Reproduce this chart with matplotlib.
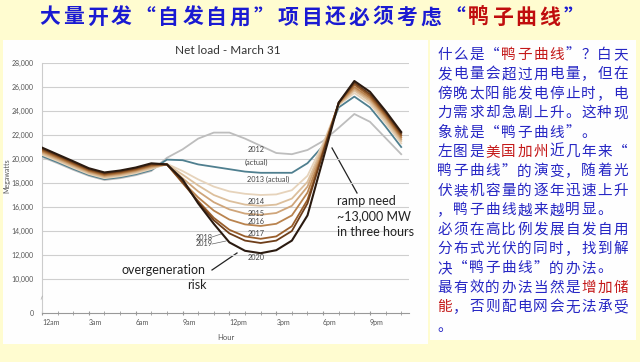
import matplotlib
matplotlib.use('Agg')
import matplotlib.pyplot as plt
from matplotlib.patches import Rectangle

plt.rcParams['font.family'] = ['Noto Sans CJK SC', 'DejaVu Sans']

# hourly net load, MW
hours = list(range(24))
y2012 = [20170, 19650, 19100, 18600, 18250, 18400, 18650, 19000, 20100, 20800, 21700, 22200,
         22200, 21700, 21100, 20500, 20400, 20750, 21500, 22600, 23750, 23100, 21750, 20400]
y2013 = [20250, 19730, 19180, 18670, 18320, 18480, 18730, 19080, 19950, 19900, 19550, 19350,
         19150, 18950, 18850, 18850, 18850, 19650, 21100, 24300, 25200, 24300, 22700, 21000]
y2014 = [20350, 19830, 19270, 18750, 18400, 18560, 18810, 19160, 19600, 19000, 18300, 17700,
         17300, 17100, 17000, 17050, 17400, 18600, 21300, 24500, 25500, 24600, 23000, 21300]
y2015 = [20450, 19920, 19360, 18830, 18480, 18640, 18890, 19240, 19550, 18700, 17800, 17000,
         16500, 16200, 16100, 16200, 16700, 18100, 21100, 24550, 25700, 24800, 23200, 21500]
y2016 = [20550, 20010, 19450, 18910, 18560, 18720, 18970, 19320, 19550, 18400, 17300, 16400,
         15800, 15450, 15350, 15500, 16100, 17700, 20900, 24600, 25850, 24950, 23400, 21650]
y2017 = [20650, 20100, 19540, 18990, 18640, 18800, 19050, 19400, 19550, 18100, 16800, 15700,
         14950, 14550, 14420, 14600, 15300, 17200, 20700, 24650, 26000, 25100, 23550, 21800]
y2018 = [20750, 20200, 19630, 19070, 18720, 18880, 19130, 19480, 19550, 18000, 16500, 15100,
         14100, 13550, 13350, 13550, 14400, 16600, 20600, 24700, 26200, 25250, 23700, 21950]
y2019 = [20850, 20290, 19720, 19150, 18800, 18960, 19210, 19560, 19550, 18100, 16400, 14900,
         13800, 13200, 13000, 13200, 14000, 16300, 20500, 24700, 26350, 25400, 23850, 22100]
y2020 = [20950, 20380, 19810, 19230, 18880, 19040, 19290, 19640, 19550, 18300, 16300, 14600,
         13050, 12350, 12150, 12400, 13200, 15300, 20000, 24700, 26500, 25600, 24000, 22250]

years = ['2012', '2013', '2014', '2015', '2016', '2017', '2018', '2019', '2020']
series = [y2012, y2013, y2014, y2015, y2016, y2017, y2018, y2019, y2020]
colors = ['#bdbdbd', '#4f7f8f', '#e6d3bb', '#dcbf9c', '#cfa57a', '#b9834e', '#9a5f2c', '#6e3e1a', '#2a1a10']

yticks = [10000, 12000, 14000, 16000, 18000, 20000, 22000, 24000, 26000, 28000]
xtick_pos = [0, 3, 6, 9, 12, 15, 18, 21]
xtick_lab = ['12am', '3am', '6am', '9am', '12pm', '3pm', '6pm', '9pm']

title_segs = [('大量开发“自发自用”项目还必须考虑“', '#1a1ad2'), ('鸭子曲线', '#c00d0d'), ('”', '#1a1ad2')]
BLUE = '#2626c4'
RED = '#c41818'
body = [
    [('什么是“', BLUE), ('鸭子曲线', RED), ('”？白天', BLUE)],
    [('发电量会超过用电量，但在', BLUE)],
    [('傍晚太阳能发电停止时，电', BLUE)],
    [('力需求却急剧上升。这种现', BLUE)],
    [('象就是“鸭子曲线”。', BLUE)],
    [('左图是', BLUE), ('美国加州', RED), ('近几年来“', BLUE)],
    [('鸭子曲线”的演变，随着光', BLUE)],
    [('伏装机容量的逐年迅速上升', BLUE)],
    [('，鸭子曲线越来越明显。', BLUE)],
    [('必须在高比例发展自发自用', BLUE)],
    [('分布式光伏的同时，找到解', BLUE)],
    [('决“鸭子曲线”的办法。', BLUE)],
    [('最有效的办法当然是', BLUE), ('增加储', RED)],
    [('能', RED), ('，否则配电网会无法承受', BLUE)],
    [('。', BLUE)],
]

W, H = 640, 362


def fx(x):
    return x / W


def fy(y):
    return 1 - y / H


fig = plt.figure(figsize=(6.4, 3.62), dpi=100, facecolor='#fffcd0')

# white panels
fig.patches.append(Rectangle((fx(3), fy(344)), 425 / W, 304 / H, transform=fig.transFigure,
                             facecolor='#fefefe', edgecolor='none', zorder=-5))
fig.patches.append(Rectangle((fx(430), fy(340)), 206 / W, 300 / H, transform=fig.transFigure,
                             facecolor='#fefefe', edgecolor='none', zorder=-5))

# title, one char per cell
i = 0
for seg, c in title_segs:
    for ch in seg:
        fig.text(fx(38 + 23.8 * i + 11.9), fy(17), ch, ha='center', va='center',
                 fontsize=15, fontweight='bold', color=c)
        i += 1

# right side text
for row, segs in enumerate(body):
    i = 0
    ypos = 55 + 19.4 * row
    for seg, c in segs:
        for ch in seg:
            fig.text(fx(437 + 16 * i + 7.5), fy(ypos), ch, ha='center', va='center',
                     fontsize=10.5, color=c)
            i += 1

# chart
ax = fig.add_axes([fx(42), fy(313), (409 - 42) / W, (313 - 63) / H])
ax.set_zorder(2)
ax.set_facecolor('none')
ybot = 7167
ax.set_ylim(ybot, 28000)
ax.set_xlim(0, 23.5)

for v in yticks:
    ax.axhline(v, color='#cfcfcf', lw=0.8, zorder=1)

for yr, s, c in zip(years, series, colors):
    lw = 1.5 if yr == '2020' else 1.3
    ax.plot(hours, s, color=c, lw=lw, zorder=3)

for sp in ['top', 'right']:
    ax.spines[sp].set_visible(False)
ax.spines['left'].set_color('#cccccc')
ax.spines['left'].set_linewidth(0.8)
ax.spines['bottom'].set_color('#999999')
ax.spines['bottom'].set_linewidth(0.8)

ax.set_yticks([ybot] + yticks)
ax.set_yticklabels(['0'] + ['{:,}'.format(v) for v in yticks], family='Lato',
                   fontsize=5, color='#555555')
ax.tick_params(axis='y', length=0, pad=6)

ax.set_xticks(xtick_pos)
ax.set_xticklabels(xtick_lab, family='Lato', fontsize=5, color='#555555', ha='left')
ax.set_xticks(hours, minor=True)
ax.tick_params(axis='x', which='both', direction='inout', length=2.5, color='#999999', pad=3)

ax.set_xlabel('Hour', family='Lato', fontsize=5.5, color='#555555', labelpad=6)
ax.set_ylabel('Megawatts', family='Lato', fontsize=5, color='#555555', labelpad=6)
ax.yaxis.set_label_coords(-0.085, 0.55)

fig.text(fx(228), fy(51), 'Net load - March 31', family='Lato', fontsize=8.5,
         color='#333333', ha='center', va='center')
fig.text(fx(42), fy(297), '~', family='DejaVu Sans', fontsize=5, color='#999999',
         ha='center', va='center', rotation=70)

# year labels
lab = dict(family='Lato', fontsize=5.3, color='#444444', ha='center', va='center')
fig.text(fx(256), fy(150), '2012', **lab)
fig.text(fx(256), fy(162), '(actual)', **lab)
fig.text(fx(268), fy(179), '2013 (actual)', **lab)
fig.text(fx(256), fy(202), '2014', **lab)
fig.text(fx(256), fy(213), '2015', **lab)
fig.text(fx(256), fy(222), '2016', **lab)
fig.text(fx(256), fy(234), '2017', **lab)
fig.text(fx(256), fy(257), '2020', **lab)
fig.text(fx(204), fy(237), '2018', **lab)
fig.text(fx(204), fy(244), '2019', **lab)
fig.add_artist(plt.Line2D([fx(212), fx(221)], [fy(237), fy(234)], color='#666666', lw=0.5))
fig.add_artist(plt.Line2D([fx(212), fx(226)], [fy(244), fy(241)], color='#666666', lw=0.5))

# annotations
ann = dict(family='Lato', fontsize=9, color='#222222', va='center')
fig.text(fx(206), fy(270), 'overgeneration', ha='right', **ann)
fig.text(fx(207), fy(285), 'risk', ha='right', **ann)
fig.add_artist(plt.Line2D([fx(212), fx(237)], [fy(270), fy(253)], color='#222222', lw=0.9))

fig.text(fx(337), fy(201), 'ramp need', ha='left', **ann)
fig.text(fx(337), fy(216), '~13,000 MW', ha='left', **ann)
fig.text(fx(337), fy(232), 'in three hours', ha='left', **ann)
fig.add_artist(plt.Line2D([fx(332), fx(357)], [fy(148), fy(193)], color='#222222', lw=0.9))

fig.savefig('out.png', dpi=100, facecolor=fig.get_facecolor())
